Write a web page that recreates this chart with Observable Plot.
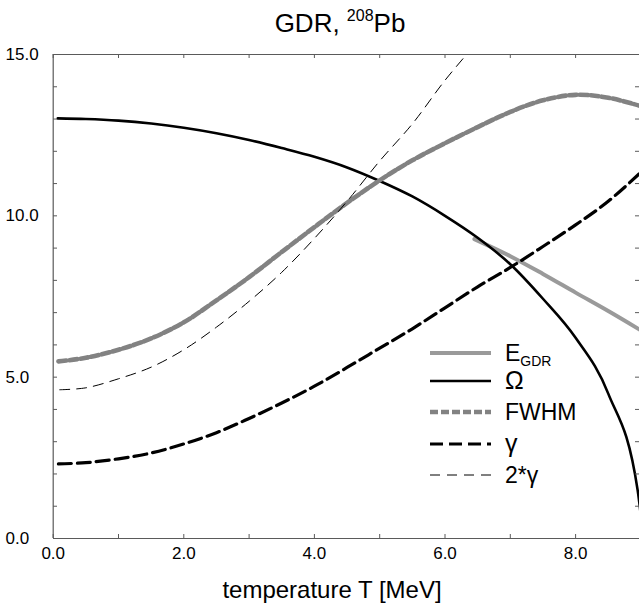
<!DOCTYPE html>
<html><head><meta charset="utf-8">
<script src="https://cdn.jsdelivr.net/npm/d3@7"></script>
<script src="https://cdn.jsdelivr.net/npm/@observablehq/plot@0.6"></script>
<style>body{margin:0;background:#fff;} svg{display:block;}</style>
</head><body><div id="chart"></div>
<script>
// ---- data ----
const omegaT = [0.07, 0.5, 1.0, 1.5, 2.0, 2.5, 3.0, 3.5, 4.0, 4.5, 5.0, 5.5, 6.0, 6.5, 7.0, 7.5, 8.0, 8.5, 8.95, 9.0];
const omegaV = [13.02, 13.0, 12.95, 12.86, 12.73, 12.56, 12.35, 12.1, 11.83, 11.5, 11.08, 10.6, 10.0, 9.32, 8.5, 7.43, 6.22, 4.49, 1.5, 0.7];

const eGdrT = [6.45, 7.0, 7.5, 8.0, 8.5, 9.0];
const eGdrV = [9.28, 8.75, 8.2, 7.62, 7.05, 6.45];

const fwhmT = [0.08, 0.5, 1.0, 1.5, 2.0, 2.5, 3.0, 3.5, 4.0, 4.5, 5.0, 5.5, 6.0, 6.5, 7.0, 7.5, 8.0, 8.5, 9.0];
const fwhmV = [5.49, 5.6, 5.85, 6.2, 6.7, 7.38, 8.1, 8.88, 9.65, 10.4, 11.1, 11.72, 12.25, 12.75, 13.22, 13.58, 13.75, 13.66, 13.4];

const gammaT = [0.08, 0.5, 1.0, 1.5, 2.0, 2.5, 3.0, 3.5, 4.0, 4.5, 5.0, 5.5, 6.0, 6.5, 7.0, 7.5, 8.0, 8.5, 9.0];
const gammaV = [2.31, 2.35, 2.47, 2.65, 2.93, 3.28, 3.72, 4.2, 4.72, 5.3, 5.9, 6.5, 7.15, 7.8, 8.4, 9.05, 9.72, 10.45, 11.35];

const twoGammaT = [0.1, 0.5, 1.0, 1.5, 2.0, 2.5, 3.0, 3.5, 4.0, 4.5, 5.0, 5.5, 6.0, 6.5];
const twoGammaV = [4.61, 4.67, 4.95, 5.31, 5.85, 6.55, 7.35, 8.25, 9.3, 10.45, 11.7, 12.85, 14.2, 15.4];

const xTicks = [0, 1, 2, 3, 4, 5, 6, 7, 8, 9];
const xLabels = [0, 2, 4, 6, 8];
const yTicks = [0, 1, 2, 3, 4, 5, 6, 7, 8, 9, 10, 11, 12, 13, 14, 15];
const yLabels = [0, 5, 10, 15];

const titleMain = "GDR, ";
const titleSup = "208";
const titleEnd = "Pb";
const xTitle = "temperature T [MeV]";
const legendNames = ["E", "Ω", "FWHM", "γ", "2*γ"];

// ---- build ----
const pts = (xs, ys) => xs.map((x, i) => ({x, y: ys[i]}));
const W = 639, H = 612, mL = 53, mT = 54, mB = 74, mR = 0;
const plotW = W - mL - mR, plotH = H - mT - mB;
const fmt = d3.format(".1f");
const axisColor = "#5a5a5a";
const FONT = "'Liberation Sans', Arial, sans-serif";

const styles = {
  egdr: {stroke: "#9a9a9a", strokeWidth: 4},
  omega: {stroke: "#000", strokeWidth: 2.6},
  fwhm: {stroke: "#828282", strokeWidth: 4.6, strokeDasharray: "8,3"},
  gamma: {stroke: "#000", strokeWidth: 3.2, strokeDasharray: "13,6"},
  twog: {stroke: "#000", strokeWidth: 1, strokeDasharray: "10,7"}
};

const chart = Plot.plot({
  width: W, height: H,
  marginLeft: mL, marginTop: mT, marginBottom: mB, marginRight: mR,
  x: {domain: [0, 9], range: [52.7, 640.4], axis: null, label: null},
  y: {domain: [0, 15], range: [538, 54], axis: null, label: null},
  style: {fontFamily: FONT, background: "#fff", color: "#000"},
  marks: [
    Plot.line(pts(eGdrT, eGdrV), {x: "x", y: "y", ...styles.egdr, curve: "catmull-rom", clip: true}),
    Plot.line(pts(omegaT, omegaV), {x: "x", y: "y", ...styles.omega, curve: "monotone-x", clip: true}),
    Plot.line(pts(fwhmT, fwhmV), {x: "x", y: "y", ...styles.fwhm, curve: "catmull-rom", clip: true}),
    Plot.line(pts(gammaT, gammaV), {x: "x", y: "y", ...styles.gamma, curve: "catmull-rom", clip: true}),
    Plot.line(pts(twoGammaT, twoGammaV), {x: "x", y: "y", ...styles.twog, curve: "catmull-rom", clip: true}),
    // frame lines
    Plot.ruleY([0, 15], {stroke: axisColor, strokeWidth: 1.2}),
    Plot.ruleX([0, 9], {stroke: axisColor, strokeWidth: 1.2}),
    // inward ticks
    Plot.tickX(xTicks, {x: d => d, insetTop: plotH - 4, stroke: axisColor}),
    Plot.tickX(xTicks, {x: d => d, insetBottom: plotH - 4, stroke: axisColor}),
    Plot.tickY(yTicks, {y: d => d, insetRight: plotW - 4, stroke: axisColor}),
    Plot.tickY(yTicks, {y: d => d, insetLeft: plotW - 4, stroke: axisColor}),
    // tick labels
    Plot.text(xLabels, {x: d => d, text: d => fmt(d), frameAnchor: "bottom", lineAnchor: "top", dy: 8, fontSize: 17}),
    Plot.text(yLabels, {y: d => d, text: d => fmt(d), frameAnchor: "left", textAnchor: "start", dx: -48, fontSize: 17})
  ]
});

const svg = d3.select(chart);
// title
const t = svg.append("text").attr("x", 340).attr("y", 32).attr("text-anchor", "middle")
  .attr("font-family", FONT).attr("font-size", 26).attr("fill", "#000");
t.append("tspan").text(titleMain);
t.append("tspan").text(titleSup).attr("font-size", 16).attr("dy", -11);
t.append("tspan").text(titleEnd).attr("dy", 11);
// x title
svg.append("text").attr("x", 332).attr("y", 598).attr("text-anchor", "middle")
  .attr("font-family", FONT).attr("font-size", 24).attr("fill", "#000").text(xTitle);
// legend
const legY = [353, 381, 412, 444, 475];
const legStyles = [styles.egdr, styles.omega, styles.fwhm, styles.gamma, styles.twog];
const lg = svg.append("g");
legStyles.forEach((s, i) => {
  lg.append("line").attr("x1", 430).attr("x2", 491).attr("y1", legY[i]).attr("y2", legY[i])
    .attr("stroke", s.stroke).attr("stroke-width", s.strokeWidth)
    .attr("stroke-dasharray", s.strokeDasharray || null);
  const tx = lg.append("text").attr("x", 505).attr("y", legY[i] + 8)
    .attr("text-anchor", "start").attr("font-family", FONT)
    .attr("font-size", i === 1 || i === 3 ? 25 : 23).attr("fill", "#000");
  tx.append("tspan").text(legendNames[i]);
  if (i === 0) tx.append("tspan").text("GDR").attr("font-size", 14).attr("dy", 5);
});

document.getElementById("chart").appendChild(chart);
</script>
</body></html>
